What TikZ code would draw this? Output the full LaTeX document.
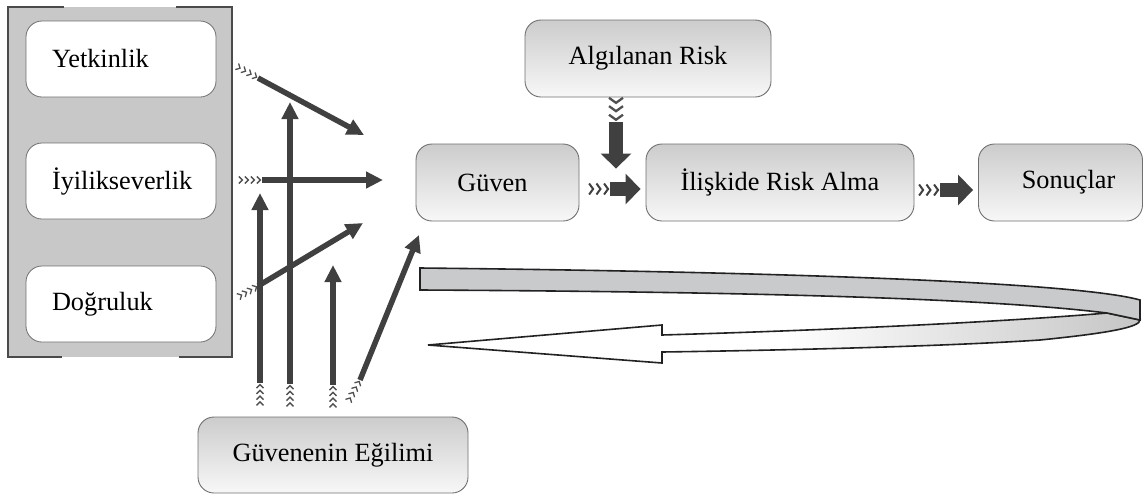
\documentclass[tikz,border=0pt]{standalone}
\usepackage{fontspec}
\setmainfont{Liberation Serif}
\usetikzlibrary{arrows.meta,decorations.markings}

\definecolor{arrowdark}{HTML}{404040}
\definecolor{chevgray}{HTML}{505050}
\definecolor{panelgray}{HTML}{C8C8C8}
\definecolor{panelline}{HTML}{4A4A4A}
\definecolor{boxline}{HTML}{707070}
\definecolor{ribbonfill}{HTML}{C9CACC}
\definecolor{ribbonline}{HTML}{222222}

\tikzset{
  leftbox/.style={draw=boxline, fill=white, rounded corners=16pt, line width=0.8pt,
    minimum height=76pt, text width=138pt, align=left, inner xsep=26pt, inner ysep=0pt},
  gbox/.style={draw=boxline, top color=gray!40, bottom color=white!97!black,
    rounded corners=16pt, line width=0.9pt, inner sep=0pt, minimum height=77pt},
  thinarrow/.style={draw=arrowdark, line width=5.5pt, -{Triangle[length=17pt,width=16pt]}},
  blockarrow/.style={draw=arrowdark, line width=14pt, -{Triangle[length=15pt,width=30pt]}},
  thinchev/.style={decoration={markings,
      mark=at position 0.22 with {\arrow[chevgray,line width=1.3pt]{Straight Barb[length=3.5pt,width=7pt]}},
      mark=at position 0.47 with {\arrow[chevgray,line width=1.3pt]{Straight Barb[length=3.5pt,width=7pt]}},
      mark=at position 0.72 with {\arrow[chevgray,line width=1.3pt]{Straight Barb[length=3.5pt,width=7pt]}},
      mark=at position 0.97 with {\arrow[chevgray,line width=1.3pt]{Straight Barb[length=3.5pt,width=7pt]}}},
    decorate},
  blockchev/.style={decoration={markings,
      mark=at position 0.3 with {\arrow[arrowdark,line width=2pt]{Straight Barb[length=4pt,width=11pt]}},
      mark=at position 0.62 with {\arrow[arrowdark,line width=2pt]{Straight Barb[length=4pt,width=11pt]}},
      mark=at position 0.95 with {\arrow[arrowdark,line width=2pt]{Straight Barb[length=4pt,width=11pt]}}},
    decorate},
  downchev/.style={decoration={markings,
      mark=at position 0.3 with {\arrow[chevgray,line width=2.3pt]{Straight Barb[length=5pt,width=14pt]}},
      mark=at position 0.62 with {\arrow[chevgray,line width=2.3pt]{Straight Barb[length=5pt,width=14pt]}},
      mark=at position 0.95 with {\arrow[chevgray,line width=2.3pt]{Straight Barb[length=5pt,width=14pt]}}},
    decorate},
}

\begin{document}
\begin{tikzpicture}[x=1pt, y=-1pt, font=\fontsize{26.3}{30}\selectfont]
\useasboundingbox (0,0) rectangle (1144,496);

% panel holding the three trustworthiness factors
\fill[panelgray] (8,7) rectangle (232,357);
\draw[panelline, line width=2.5pt] (64,7) -- (8,7) -- (8,357) -- (62,357);
\draw[panelline, line width=2.5pt] (176,7) -- (232,7) -- (232,357) -- (179,357);

\node[leftbox] (yet) at (121,59)  {Yetkinlik};
\node[leftbox] (iyi) at (121,181) {İyilikseverlik};
\node[leftbox] (dog) at (121,304) {Doğruluk};

% main boxes
\node[gbox, minimum width=246pt] (alg) at (648,58.5)    {Algılanan Risk};
\node[gbox, minimum width=163pt] (guv) at (497.5,182.5) {\hspace*{-10pt}Güven};
\node[gbox, minimum width=268pt] (ili) at (780,182.5)   {İlişkide Risk Alma};
\node[gbox, minimum width=164pt] (son) at (1060.5,182.5){\hspace*{16pt}Sonuçlar};
\node[gbox, minimum width=270pt, minimum height=76pt] (egi) at (333,455) {Güvenenin Eğilimi};

% end points of the thin arrows in front of "Güven"
\coordinate (g1) at (364,135);
\coordinate (g2) at (383,180);
\coordinate (g3) at (363,223);
\coordinate (g4) at (419,235);

% factors -> trust
\coordinate (y0) at (236,66);  \coordinate (y1) at (258,78);
\coordinate (i0) at (238,180); \coordinate (i1) at (262,180);
\coordinate (d0) at (238,297); \coordinate (d1) at (258,286);
\path[thinchev] (y0) -- (y1);  \draw[thinarrow] (y1) -- (g1);
\path[thinchev] (i0) -- (i1);  \draw[thinarrow] (i1) -- (g2);
\path[thinchev] (d0) -- (d1);  \draw[thinarrow] (d1) -- (g3);

% propensity -> factors and trust
\coordinate (v1a) at (260,406); \coordinate (v1b) at (260,383); \coordinate (v1c) at (260,193);
\coordinate (v2a) at (290,407); \coordinate (v2b) at (290,384); \coordinate (v2c) at (290,102);
\coordinate (v3a) at (333,408); \coordinate (v3b) at (333,385); \coordinate (v3c) at (333,265);
\coordinate (v4a) at (348,402); \coordinate (v4b) at (360,380);
\path[thinchev] (v1a) -- (v1b); \draw[thinarrow] (v1b) -- (v1c);
\path[thinchev] (v2a) -- (v2b); \draw[thinarrow] (v2b) -- (v2c);
\path[thinchev] (v3a) -- (v3b); \draw[thinarrow] (v3b) -- (v3c);
\path[thinchev] (v4a) -- (v4b); \draw[thinarrow] (v4b) -- (g4);

% trust -> risk taking -> outcomes
\path[blockchev] ([shift={(8,6.5)}]guv.east) -- ([shift={(31,6.5)}]guv.east);
\draw[blockarrow] ([shift={(31,6.5)}]guv.east) -- ([shift={(-5,6.5)}]ili.west);
\path[blockchev] ([shift={(3,7.5)}]ili.east) -- ([shift={(26,7.5)}]ili.east);
\draw[blockarrow] ([shift={(26,7.5)}]ili.east) -- ([shift={(-5,7.5)}]son.west);

% perceived risk -> risk taking
\path[downchev] ([shift={(-32,-1)}]alg.south) -- ([shift={(-32,25)}]alg.south);
\draw[blockarrow] ([shift={(-32,25)}]alg.south) -- ([shift={(-164,25)}]ili.north);

% feedback ribbon: lower lane with its head first, upper band on top
\path[draw=ribbonline, line width=1.6pt, line join=miter,
      left color=white, right color=gray!45, middle color=white]
  (428,345) -- (662,325) -- (662,335)
  .. controls (900,328) and (1050,318) .. (1107,313) -- (1140,320)
  .. controls (1140,327) and (1110,333) .. (1040,340)
  .. controls (950,346) and (800,350) .. (662,352)
  -- (662,363) -- cycle;
\draw[draw=ribbonline, line width=1.6pt, fill=ribbonfill, line join=miter]
  (420,268) .. controls (800,272) and (1080,283) .. (1140,300)
  -- (1140,320) -- (1107,313)
  .. controls (1000,300) and (800,292) .. (420,290) -- cycle;
\end{tikzpicture}
\end{document}
